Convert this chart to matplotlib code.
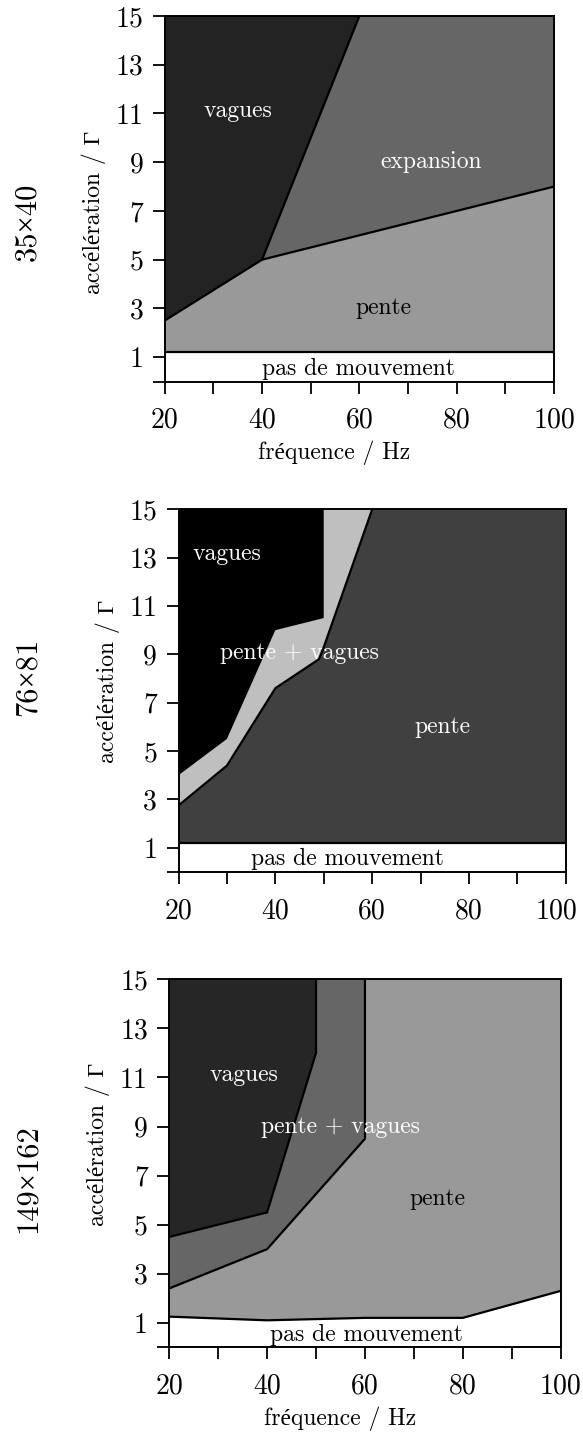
import numpy as np
import matplotlib
matplotlib.use("Agg")
import matplotlib.pyplot as plt
from matplotlib.transforms import ScaledTranslation

plt.rcParams['font.family'] = ['cmr10', 'Liberation Serif', 'DejaVu Serif']
plt.rcParams['axes.formatter.use_mathtext'] = True

# frequency ticks / acceleration ticks
x_ticks = [20, 30, 40, 50, 60, 70, 80, 90, 100]
x_ticklabels = ['20', '', '40', '', '60', '', '80', '', '100']
y_ticks = [0, 1, 3, 5, 7, 9, 11, 13, 15]
y_ticklabels = ['', '1', '3', '5', '7', '9', '11', '13', '15']

# --- 35x40 ---
p1_move_x = [20, 100]
p1_move_y = [1.2, 1.2]
p1_pente_x = [20, 40, 100]
p1_pente_y = [2.5, 5.0, 8.0]
p1_vagues_x = [40, 60]
p1_vagues_y = [5.0, 15.0]

# --- 76x81 ---
p2_move_x = [20, 100]
p2_move_y = [1.2, 1.2]
p2_pente_x = [20, 30, 40, 49, 50, 60]
p2_pente_y = [2.75, 4.4, 7.6, 8.8, 9.3, 15.0]
p2_vagues_x = [20, 30, 40, 50, 50]
p2_vagues_y = [4.0, 5.5, 10.0, 10.5, 15.0]

# --- 149x162 ---
p3_move_x = [20, 40, 60, 80, 100]
p3_move_y = [1.25, 1.1, 1.2, 1.2, 2.3]
p3_pente_x = [20, 40, 60, 60]
p3_pente_y = [2.4, 4.0, 8.5, 15.0]
p3_vagues_x = [20, 40, 50, 50]
p3_vagues_y = [4.5, 5.5, 12.0, 15.0]

# region labels: (text, x, y, color)
p1_labels = [('vagues', 35, 11.1, 'white'), ('expansion', 74.8, 9.0, 'white'),
             ('pente', 64.9, 3.0, 'black'), ('pas de mouvement', 59.9, 0.5, 'black')]
p2_labels = [('vagues', 30, 13.15, 'white'), ('pente + vagues', 45, 9.05, 'white'),
             ('pente', 74.5, 6.0, 'white'), ('pas de mouvement', 54.9, 0.55, 'black')]
p3_labels = [('vagues', 35.2, 11.1, 'white'), ('pente + vagues', 54.9, 9.0, 'white'),
             ('pente', 74.7, 6.05, 'black'), ('pas de mouvement', 60.3, 0.5, 'black')]

W, H = 583, 1434
fig = plt.figure(figsize=(W / 100, H / 100), dpi=100)


def make_axes(left, right, top, bottom):
    ax = fig.add_axes([left / W, 1 - bottom / H, (right - left) / W, (bottom - top) / H])
    ax.set_xlim(20, 100)
    ax.set_ylim(0, 15)
    ax.set_xticks(x_ticks)
    ax.set_xticklabels(x_ticklabels)
    ax.set_yticks(y_ticks)
    ax.set_yticklabels(y_ticklabels)
    ax.tick_params(axis='x', direction='out', length=8.5, width=1.3, labelsize=20, pad=10)
    ax.tick_params(axis='y', direction='out', length=8.8, width=1.3, labelsize=20, pad=6.5)
    for s in ax.spines.values():
        s.set_linewidth(1.4)
    return ax


def boundary(ax, xs, ys):
    ax.plot(xs, ys, color='black', lw=1.6, zorder=3, solid_joinstyle='miter')


def add_labels(ax, labels):
    for txt, x, y, c in labels:
        ax.text(x, y, txt, color=c, fontsize=17, ha='center', va='center', zorder=4)


def y_label(ax, yfrac):
    ax.set_ylabel('accélération / Γ', fontsize=17)
    ax.yaxis.label.set_va('center')
    ax.yaxis.set_label_coords(-0.183, yfrac)


def x_label(ax, yfrac):
    ax.set_xlabel('fréquence / Hz', fontsize=17)
    ax.xaxis.label.set_va('center')
    ax.xaxis.set_label_coords(0.436, yfrac)


# panel 1
ax1 = make_axes(164.7, 554.0, 16.0, 381.5)
ax1.fill_between(p1_move_x, p1_move_y, 15, color='#666666', lw=0, zorder=1)
ax1.fill(np.r_[p1_vagues_x, 20, 20], np.r_[p1_vagues_y, 15, p1_pente_y[0]],
         color='#232323', lw=0, zorder=1)
ax1.fill_between(p1_pente_x, np.interp(p1_pente_x, p1_move_x, p1_move_y), p1_pente_y,
                 color='#999999', lw=0, zorder=2)
boundary(ax1, p1_move_x, p1_move_y)
boundary(ax1, p1_pente_x, p1_pente_y)
boundary(ax1, p1_vagues_x, p1_vagues_y)
add_labels(ax1, p1_labels)
y_label(ax1, 0.462)
x_label(ax1, -0.196)
fig.text(27.9 / W, 1 - 222 / H, '35×40', rotation=90, fontsize=22, ha='center', va='center')

# panel 2
ax2 = make_axes(178.5, 565.9, 509.3, 872.0)
ax2.fill_between(p2_move_x, p2_move_y, 15, color='#404040', lw=0, zorder=1)
ax2.fill(np.r_[p2_vagues_x, 20], np.r_[p2_vagues_y, 15], color='black', lw=0, zorder=1)
ax2.fill(np.r_[p2_pente_x, p2_vagues_x[::-1]], np.r_[p2_pente_y, p2_vagues_y[::-1]],
         color='#bfbfbf', lw=0, zorder=2)
boundary(ax2, p2_move_x, p2_move_y)
boundary(ax2, p2_pente_x, p2_pente_y)
add_labels(ax2, p2_labels)
y_label(ax2, 0.525)
fig.text(27.9 / W, 1 - 677 / H, '76×81', rotation=90, fontsize=22, ha='center', va='center')
# "100" sits against the right edge in this panel
last = ax2.get_xticklabels()[-1]
last.set_transform(last.get_transform() + ScaledTranslation(-9 / 100, 0, fig.dpi_scale_trans))

# panel 3
ax3 = make_axes(169.2, 560.7, 979.3, 1347.3)
ax3.fill_between(p3_move_x, p3_move_y, 15, color='#999999', lw=0, zorder=1)
ax3.fill(np.r_[p3_vagues_x, 20], np.r_[p3_vagues_y, 15], color='#262626', lw=0, zorder=1)
ax3.fill(np.r_[p3_pente_x, p3_vagues_x[::-1]], np.r_[p3_pente_y, p3_vagues_y[::-1]],
         color='#666666', lw=0, zorder=2)
boundary(ax3, p3_move_x, p3_move_y)
boundary(ax3, p3_pente_x, p3_pente_y)
boundary(ax3, p3_vagues_x, p3_vagues_y)
add_labels(ax3, p3_labels)
y_label(ax3, 0.552)
x_label(ax3, -0.193)
fig.text(27.9 / W, 1 - 1179 / H, '149×162', rotation=90, fontsize=22, ha='center', va='center')

fig.savefig('out.png', dpi=100)
